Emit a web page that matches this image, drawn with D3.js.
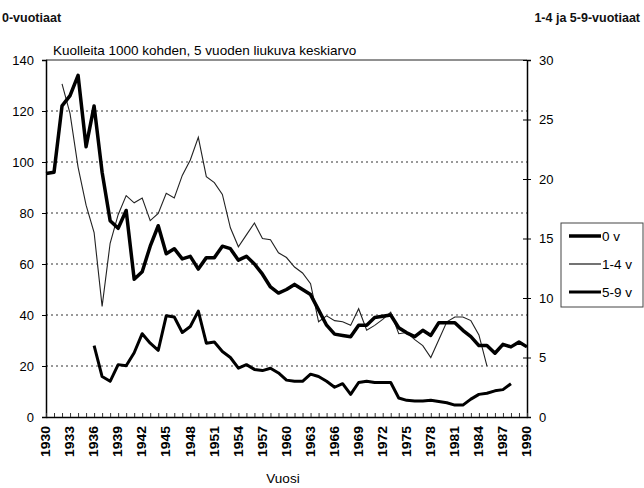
<!DOCTYPE html>
<html>
<head>
<meta charset="utf-8">
<script src="https://cdnjs.cloudflare.com/ajax/libs/d3/7.8.5/d3.min.js"></script>
<style>
  html, body { margin: 0; padding: 0; background: #fff; overflow: hidden; }
  svg { display: block; font-family: "Liberation Sans", Arial, sans-serif; }
</style>
</head>
<body>
<div id="chart"></div>
<script>
// 0-vuotiaat, 1930-1990 (left axis)
var years0 = d3.range(1930, 1991);
var infant = [95.5, 96, 122, 126, 134, 106, 122, 96, 77, 74,
  81, 54, 57, 67, 75, 64, 66, 62, 63, 58,
  62.5, 62.5, 67, 66, 61.5, 63, 60, 56, 51, 48.6,
  50, 52, 50, 48, 42, 36, 32.5, 32, 31.5, 36,
  36, 39, 39.5, 40, 35, 33, 31.5, 34, 32, 37,
  37, 37, 34, 31.5, 28, 28, 25, 28.5, 27.5, 29.4,
  27.5];

// 1-4-vuotiaat, 1932-1985 (right axis)
var years14 = d3.range(1932, 1986);
var age14 = [28, 25.5, 21, 17.8, 15.5, 9.3, 14.6, 17, 18.6, 18,
  18.4, 16.5, 17.1, 18.8, 18.4, 20.3, 21.6, 23.5, 20.2, 19.7,
  18.7, 15.9, 14.3, 15.3, 16.3, 15, 14.9, 13.8, 13.4, 12.6,
  12.1, 11.2, 8.0, 8.5, 8.1, 8.0, 7.7, 9.1, 7.3, 7.7,
  8.2, 8.8, 7.0, 7.1, 6.5, 6.0, 5.0, 6.5, 8.0, 8.4,
  8.4, 8.1, 6.9, 4.3];

// 5-9-vuotiaat, 1936-1988 (right axis)
var years59 = d3.range(1936, 1989);
var age59 = [6.0, 3.4, 3.0, 4.4, 4.3, 5.4, 7.0, 6.2, 5.6, 8.5,
  8.4, 7.1, 7.6, 8.9, 6.2, 6.3, 5.5, 5.0, 4.1, 4.4,
  4.0, 3.9, 4.1, 3.7, 3.1, 3.0, 3.0, 3.6, 3.4, 3.0,
  2.5, 2.8, 1.9, 2.9, 3.0, 2.9, 2.9, 2.9, 1.6, 1.4,
  1.35, 1.35, 1.4, 1.3, 1.2, 1.0, 1.0, 1.5, 1.9, 2.0,
  2.2, 2.3, 2.8];

var leftTicks = [0, 20, 40, 60, 80, 100, 120, 140];
var rightTicks = [0, 5, 10, 15, 20, 25, 30];
var xLabels = d3.range(1930, 1991, 3);
var legendLabels = ["0 v", "1-4 v", "5-9 v"];

var width = 644, height = 488,
    margin = {top: 60, right: 117, bottom: 71, left: 46},
    innerWidth = width - margin.left - margin.right,
    innerHeight = height - margin.top - margin.bottom;

var svg = d3.select("#chart").append("svg")
  .attr("width", width)
  .attr("height", height);

var g = svg.append("g")
  .attr("transform", "translate(" + margin.left + "," + margin.top + ")");

var x = d3.scaleLinear().domain([1930, 1990]).range([0, innerWidth]);
var yL = d3.scaleLinear().domain([0, 140]).range([innerHeight, 0]);
var yR = d3.scaleLinear().domain([0, 30]).range([innerHeight, 0]);

// dotted gridlines
g.selectAll(".grid")
  .data(leftTicks.filter(function (d) { return d > 0 && d < 140; }))
  .enter().append("line")
  .attr("x1", 0).attr("x2", innerWidth)
  .attr("y1", function (d) { return yL(d); })
  .attr("y2", function (d) { return yL(d); })
  .attr("stroke", "#333")
  .attr("stroke-width", 1)
  .attr("stroke-dasharray", "2,3");

// top border
g.append("line")
  .attr("x1", 0).attr("x2", innerWidth)
  .attr("y1", 0).attr("y2", 0)
  .attr("stroke", "#222");

// left axis
var leftAxis = g.append("g")
  .call(d3.axisLeft(yL).tickValues(leftTicks).tickSize(4).tickPadding(8));
leftAxis.select(".domain").attr("stroke-width", 1.5);
leftAxis.selectAll("text").attr("font-size", 13).attr("fill", "#000");

// right axis
var rightAxis = g.append("g")
  .attr("transform", "translate(" + innerWidth + ",0)")
  .call(d3.axisRight(yR).tickValues(rightTicks).tickSize(4).tickPadding(8));
rightAxis.select(".domain").attr("stroke-width", 1.5);
rightAxis.selectAll(".tick line").attr("x1", -4);
rightAxis.selectAll("text").attr("font-size", 13).attr("fill", "#000");

// bottom axis, minor ticks each year, labels every 3 years
var bottomAxis = g.append("g")
  .attr("transform", "translate(0," + innerHeight + ")")
  .call(d3.axisBottom(x).tickValues(years0).tickSize(0).tickFormat(""));
bottomAxis.select(".domain").attr("stroke-width", 1.5);
bottomAxis.selectAll(".tick line").attr("y2", -4).attr("stroke", "#333");
bottomAxis.selectAll(".tick text").remove();

g.selectAll(".xlab")
  .data(xLabels)
  .enter().append("text")
  .attr("transform", function (d) {
    return "translate(" + x(d) + "," + (innerHeight + 9) + ") rotate(-90)";
  })
  .attr("text-anchor", "end")
  .attr("dy", "0.35em")
  .attr("font-size", 12)
  .attr("font-weight", "bold")
  .attr("textLength", 31)
  .attr("lengthAdjust", "spacingAndGlyphs")
  .text(function (d) { return d; });

// lines
var line0 = d3.line()
  .x(function (d, i) { return x(years0[i]); })
  .y(function (d) { return yL(d); });
var line14 = d3.line()
  .x(function (d, i) { return x(years14[i]); })
  .y(function (d) { return yR(d); });
var line59 = d3.line()
  .x(function (d, i) { return x(years59[i]); })
  .y(function (d) { return yR(d); });

g.append("path").datum(age14)
  .attr("d", line14)
  .attr("fill", "none")
  .attr("stroke", "#222")
  .attr("stroke-width", 1.1);

g.append("path").datum(age59)
  .attr("d", line59)
  .attr("fill", "none")
  .attr("stroke", "#000")
  .attr("stroke-width", 3)
  .attr("stroke-linejoin", "round");

g.append("path").datum(infant)
  .attr("d", line0)
  .attr("fill", "none")
  .attr("stroke", "#000")
  .attr("stroke-width", 3.5)
  .attr("stroke-linejoin", "round");

// titles
svg.append("text").attr("x", 2).attr("y", 22)
  .attr("font-size", 12.5).attr("font-weight", "bold").attr("fill", "#111")
  .text("0-vuotiaat");
svg.append("text").attr("x", 640).attr("y", 22)
  .attr("text-anchor", "end")
  .attr("font-size", 12.5).attr("font-weight", "bold").attr("fill", "#111")
  .text("1-4 ja 5-9-vuotiaat");
svg.append("text").attr("x", 53).attr("y", 55)
  .attr("font-size", 13.5).attr("fill", "#000")
  .text("Kuolleita 1000 kohden, 5 vuoden liukuva keskiarvo");
svg.append("text").attr("x", 283).attr("y", 483)
  .attr("text-anchor", "middle")
  .attr("font-size", 13.5).attr("fill", "#000")
  .text("Vuosi");

// legend (box runs past the right edge, as in the original)
var legend = svg.append("g").attr("transform", "translate(561,223)");
legend.append("rect")
  .attr("width", 82).attr("height", 84)
  .attr("fill", "#fff").attr("stroke", "#444");
var legendWidths = [3.5, 1.1, 3];
legend.selectAll(".item")
  .data(legendLabels)
  .enter().append("g")
  .attr("transform", function (d, i) { return "translate(8," + (13 + i * 28) + ")"; })
  .each(function (d, i) {
    var it = d3.select(this);
    it.append("line").attr("x1", 0).attr("x2", 32)
      .attr("stroke", "#000").attr("stroke-width", legendWidths[i]);
    it.append("text").attr("x", 33).attr("dy", "0.35em")
      .attr("font-size", 13.5).text(d);
  });
</script>
</body>
</html>
